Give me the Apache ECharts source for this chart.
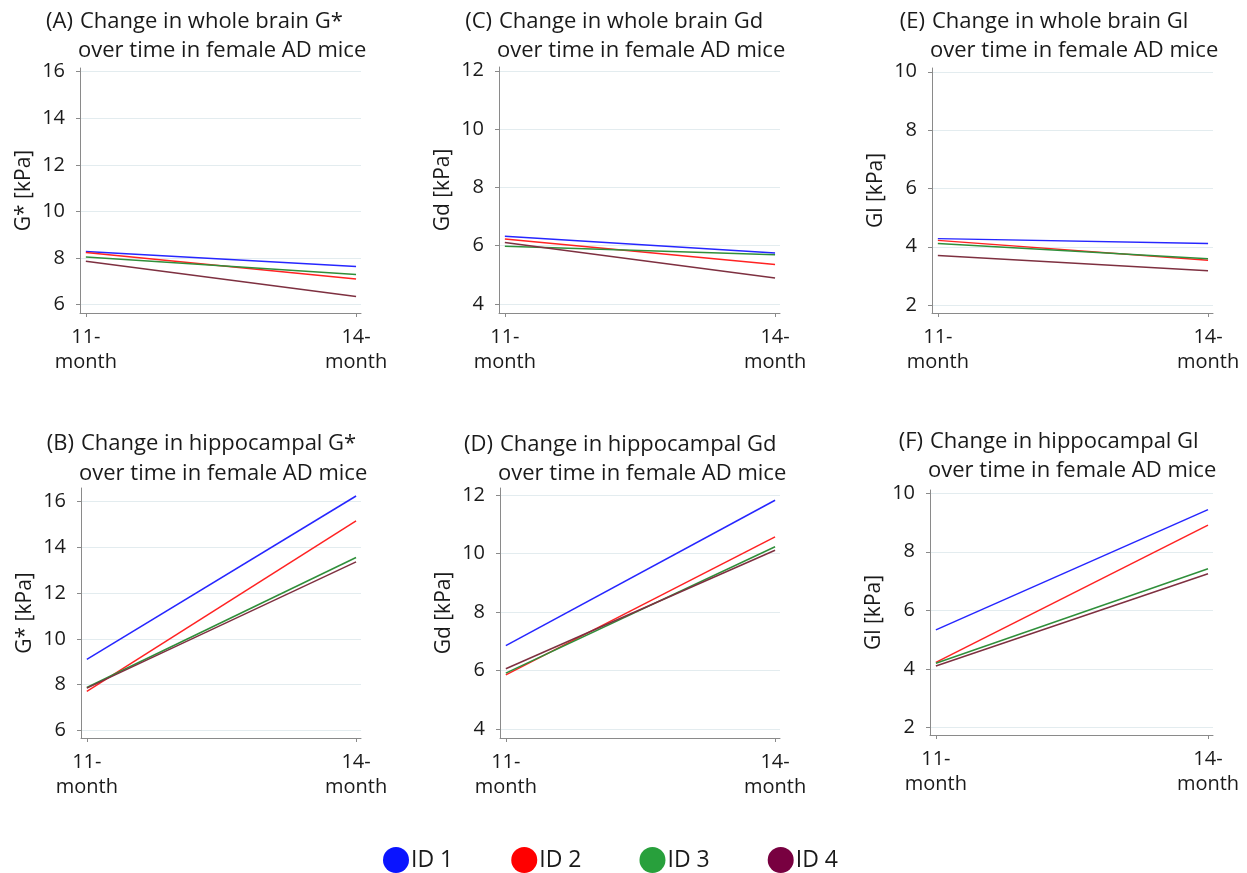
<!DOCTYPE html>
<html>
<head>
<meta charset="utf-8">
<script src="https://cdn.jsdelivr.net/npm/echarts@6/dist/echarts.min.js"></script>
<style>
html,body{margin:0;padding:0;background:#fff;}
#chart{width:1247px;height:873px;}
</style>
</head>
<body>
<div id="chart"></div>
<script>
// ---- data ----
const timepoints = [11, 14];                 // months
const seriesNames = ['ID 1', 'ID 2', 'ID 3', 'ID 4'];
const panelLabels = ['(A)', '(B)', '(C)', '(D)', '(E)', '(F)'];
const panelTitles = [
  'Change in whole brain G*', 'Change in hippocampal G*',
  'Change in whole brain Gd', 'Change in hippocampal Gd',
  'Change in whole brain Gl', 'Change in hippocampal Gl'
];
const subTitle = 'over time in female AD mice';
const yNames = ['G* [kPa]', 'G* [kPa]', 'Gd [kPa]', 'Gd [kPa]', 'Gl [kPa]', 'Gl [kPa]'];
const yTicksA = [6, 8, 10, 12, 14, 16];
const yTicksB = [6, 8, 10, 12, 14, 16];
const yTicksC = [4, 6, 8, 10, 12];
const yTicksD = [4, 6, 8, 10, 12];
const yTicksE = [2, 4, 6, 8, 10];
const yTicksF = [2, 4, 6, 8, 10];

// whole brain G*
const A_id1 = [8.28, 7.64], A_id2 = [8.24, 7.10], A_id3 = [8.04, 7.29], A_id4 = [7.86, 6.35];
// hippocampal G*
const B_id1 = [9.11, 16.25], B_id2 = [7.71, 15.16], B_id3 = [7.88, 13.56], B_id4 = [7.85, 13.37];
// whole brain Gd
const C_id1 = [6.32, 5.75], C_id2 = [6.23, 5.35], C_id3 = [5.98, 5.69], C_id4 = [6.11, 4.89];
// hippocampal Gd
const D_id1 = [6.85, 11.82], D_id2 = [5.85, 10.57], D_id3 = [5.91, 10.23], D_id4 = [6.06, 10.11];
// whole brain Gl
const E_id1 = [4.28, 4.11], E_id2 = [4.22, 3.54], E_id3 = [4.11, 3.59], E_id4 = [3.70, 3.18];
// hippocampal Gl
const F_id1 = [5.33, 9.44], F_id2 = [4.22, 8.91], F_id3 = [4.19, 7.42], F_id4 = [4.10, 7.25];

// ---- layout / style ----
const FONT = '"Open Sans", Lato, sans-serif';
const TXT = '#1a1a1a';
const lineColors = ['#2626ff', '#ff2222', '#2f8f3a', '#7e3040'];
const legendColors = ['#0a14ff', '#ff0000', '#28a03c', '#780040'];

const panels = [
  { data: [A_id1, A_id2, A_id3, A_id4], ticks: yTicksA, grid: {left: 80, top: 68, width: 281, height: 245}, y: [5.64, 16.16], ty: [22, 51] },
  { data: [B_id1, B_id2, B_id3, B_id4], ticks: yTicksB, grid: {left: 81, top: 488, width: 280, height: 250}, y: [5.67, 16.6], ty: [443.5, 473.5] },
  { data: [C_id1, C_id2, C_id3, C_id4], ticks: yTicksC, grid: {left: 499, top: 67, width: 281, height: 246}, y: [3.69, 12.13], ty: [22, 50.5] },
  { data: [D_id1, D_id2, D_id3, D_id4], ticks: yTicksD, grid: {left: 500, top: 488, width: 280, height: 250}, y: [3.69, 12.24], ty: [445, 473.5] },
  { data: [E_id1, E_id2, E_id3, E_id4], ticks: yTicksE, grid: {left: 932, top: 68, width: 281, height: 245}, y: [1.73, 10.13], ty: [22, 50.5] },
  { data: [F_id1, F_id2, F_id3, F_id4], ticks: yTicksF, grid: {left: 930, top: 490, width: 283, height: 245}, y: [1.74, 10.11], ty: [442, 471] }
];

const grids = [], xAxes = [], yAxes = [], series = [], graphics = [];
panels.forEach((p, i) => {
  grids.push(Object.assign({containLabel: false}, p.grid));
  xAxes.push({
    type: 'value', gridIndex: i, min: 10.935, max: 14.055,
    axisLine: {show: true, lineStyle: {color: '#8a8a8a', width: 1}},
    axisTick: {show: true, length: 4, inside: false, customValues: timepoints, lineStyle: {color: '#8a8a8a'}},
    axisLabel: {show: true, customValues: timepoints, formatter: v => v + '-\nmonth',
      fontFamily: FONT, fontSize: 20, color: TXT, lineHeight: 25, margin: 12},
    splitLine: {show: false}
  });
  yAxes.push({
    type: 'value', gridIndex: i, min: p.y[0], max: p.y[1],
    name: yNames[i], nameLocation: 'middle', nameGap: 45,
    nameTextStyle: {fontFamily: FONT, fontSize: 21, color: TXT},
    axisLine: {show: true, lineStyle: {color: '#8a8a8a', width: 1}},
    axisTick: {show: true, length: 4, inside: false, customValues: p.ticks, lineStyle: {color: '#8a8a8a'}},
    axisLabel: {show: true, customValues: p.ticks, fontFamily: FONT, fontSize: 20, color: TXT, margin: 15},
    splitLine: {show: true, lineStyle: {color: '#e3ecef', width: 1}}
  });
  p.data.forEach((vals, k) => {
    series.push({
      type: 'line', name: seriesNames[k], xAxisIndex: i, yAxisIndex: i,
      data: timepoints.map((t, j) => [t, vals[j]]),
      symbol: 'none', silent: true, animation: false,
      lineStyle: {color: lineColors[k], width: 1.5},
      itemStyle: {color: legendColors[k]}
    });
  });
  const gx = p.grid.left;
  graphics.push({
    type: 'text', x: gx - 7, y: p.ty[0],
    style: {text: panelLabels[i], fontFamily: FONT, fontSize: 22, fill: TXT, textAlign: 'right', textVerticalAlign: 'middle'}
  });
  graphics.push({
    type: 'text', x: gx, y: p.ty[0],
    style: {text: panelTitles[i], fontFamily: FONT, fontSize: 22, fill: TXT, textAlign: 'left', textVerticalAlign: 'middle'}
  });
  graphics.push({
    type: 'text', x: gx - 2, y: p.ty[1],
    style: {text: subTitle, fontFamily: FONT, fontSize: 22, fill: TXT, textAlign: 'left', textVerticalAlign: 'middle'}
  });
});

const chart = echarts.init(document.getElementById('chart'), null, {renderer: 'canvas'});
chart.setOption({
  backgroundColor: '#ffffff',
  animation: false,
  grid: grids,
  xAxis: xAxes,
  yAxis: yAxes,
  series: series,
  graphic: graphics,
  legend: {
    data: seriesNames.map((n, k) => ({name: n, icon: 'circle', itemStyle: {color: legendColors[k]}})),
    left: 378, top: 842,
    itemWidth: 26, itemHeight: 26, itemGap: 58,
    textStyle: {fontFamily: FONT, fontSize: 23, color: TXT, padding: [0, 0, 0, -3]},
    selectedMode: false
  }
});
</script>
</body>
</html>
